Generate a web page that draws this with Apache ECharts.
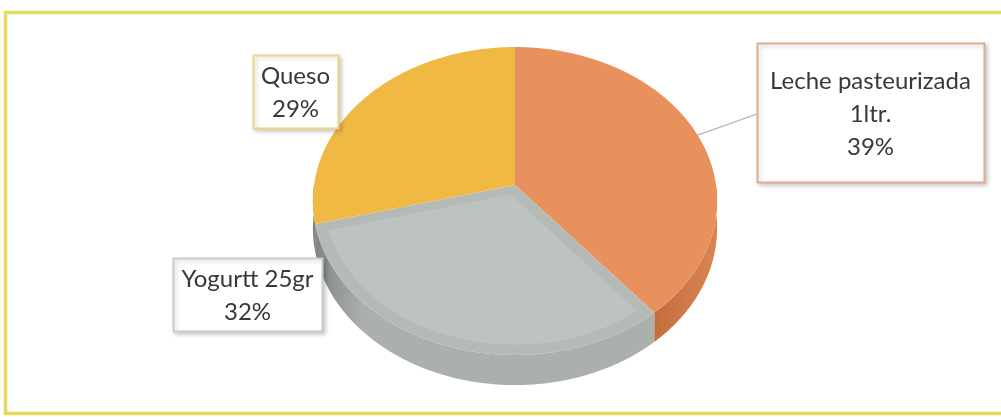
<!DOCTYPE html>
<html><head><meta charset="utf-8">
<script src="https://cdn.jsdelivr.net/npm/echarts@6/dist/echarts.min.js"></script>
<style>html,body{margin:0;padding:0;background:#fff}#c{width:1001px;height:417px}</style>
</head><body><div id="c"></div>
<script>
// ---- data ----
const categories = ['Leche pasteurizada\n1ltr.', 'Yogurtt 25gr', 'Queso'];
const values = [39, 32, 29];
const topColors = ['#E8915C', '#BDC3C1', '#F0B944'];
const bevelColors = ['#E8915C', '#B5BAB6', '#F0B944'];
const sideColors = [['#D98552', '#C46E3E'], ['#7E8481', '#ABB0AD'], ['#7E8481', '#8E9491']];
const boxBorders = ['#E2AD8C', '#C9CDCC', '#EFD389'];

// ---- layout ----
const geo = {cx: 515, cy: 185, rx: 201, ry: 152.3, p: 0.104, depth: 27};
const boxes = [
  {x: 757, y: 43, w: 227, h: 139},
  {x: 173, y: 258, w: 149, h: 73},
  {x: 253, y: 55, w: 85, h: 73}
];
const total = values.reduce((a, b) => a + b, 0);
const starts = [];
{ let acc = 0; values.forEach(v => { starts.push(acc / total * Math.PI * 2); acc += v; }); }

function proj(u, v, dz) {
  const s = 1 / (1 + geo.p * v);
  return [geo.cx + geo.rx * u * s, geo.cy - geo.ry * v * s + (dz || 0) * s];
}
function arcPts(a0, a1, r, dz, ox, oy) {
  const pts = [];
  const n = Math.max(2, Math.ceil((a1 - a0) / 0.01));
  for (let i = 0; i <= n; i++) {
    const t = a0 + (a1 - a0) * i / n;
    pts.push(proj((ox || 0) + r * Math.sin(t), (oy || 0) + r * Math.cos(t), dz));
  }
  return pts;
}

function renderItem(params, api) {
  const i = params.dataIndex;
  const val = api.value(0);
  const a0 = starts[i];
  const a1 = a0 + val / total * Math.PI * 2;
  const children = [];
  // side
  const s0 = Math.max(a0, Math.PI / 2), s1 = Math.min(a1, Math.PI * 1.5);
  if (s1 > s0) {
    const top = arcPts(s0, s1, 1, 0);
    const bot = arcPts(s0, s1, 1, geo.depth).reverse();
    children.push({type: 'polygon', z2: 1, shape: {points: top.concat(bot)},
      style: {fill: {type: 'linear', x: geo.cx - geo.rx, y: 0, x2: geo.cx + geo.rx, y2: 0, global: true,
        colorStops: [{offset: 0, color: sideColors[i][0]}, {offset: 0.12, color: sideColors[i][1]}, {offset: 0.85, color: sideColors[i][1]}, {offset: 1, color: sideColors[i][0]}]}}});
  }
  // top face
  const pts = [proj(0, 0)].concat(arcPts(a0, a1, 1, 0));
  children.push({type: 'polygon', z2: 5, shape: {points: pts}, style: {fill: bevelColors[i]}});
  // inner (bevel) face
  const d = 0.055;
  const half = (a1 - a0) / 2, mid = a0 + half;
  const off = d / Math.sin(Math.min(half, Math.PI / 2));
  const ox = off * Math.sin(mid), oy = off * Math.cos(mid);
  const da = Math.asin(d / (1 - d));
  const inner = [proj(ox, oy)].concat(arcPts(a0 + da, a1 - da, 1 - d, 0));
  children.push({type: 'polygon', z2: 6, shape: {points: inner}, style: {fill: topColors[i]}});
  // label box
  const b = boxes[i];
  children.push({type: 'rect', z2: 10, shape: {x: b.x + 0.5, y: b.y + 0.5, width: b.w, height: b.h},
    style: {fill: '#fff', stroke: boxBorders[i], lineWidth: 2, shadowBlur: 4, shadowOffsetX: 2, shadowOffsetY: 2, shadowColor: 'rgba(0,0,0,0.18)'}});
  const pct = Math.round(val / total * 100) + '%';
  children.push({type: 'text', z2: 11, style: {text: categories[i] + '\n' + pct, x: b.x + b.w / 2, y: b.y + b.h / 2 + 1.5,
    align: 'center', verticalAlign: 'middle', font: '24px Lato', lineHeight: 33, fill: '#383838'}});
  // leader line (only where the box is away from the slice)
  if (i === 0) {
    const m = proj(Math.sin(mid), Math.cos(mid));
    children.push({type: 'line', z2: 9, shape: {x1: m[0], y1: m[1], x2: b.x, y2: b.y + 71},
      style: {stroke: '#AAB5BD', lineWidth: 1.3}});
  }
  return {type: 'group', children};
}

const chart = echarts.init(document.getElementById('c'));
chart.setOption({
  animation: false,
  graphic: [{type: 'rect', shape: {x: 5.5, y: 12.5, width: 1100, height: 401}, style: {fill: 'none', stroke: '#E7DC58', lineWidth: 3.5}, z: -1}],
  series: [{
    type: 'custom', coordinateSystem: 'none',
    renderItem: renderItem,
    data: values.map((v, i) => ({name: categories[i], value: [v]}))
  }]
});
</script></body></html>
